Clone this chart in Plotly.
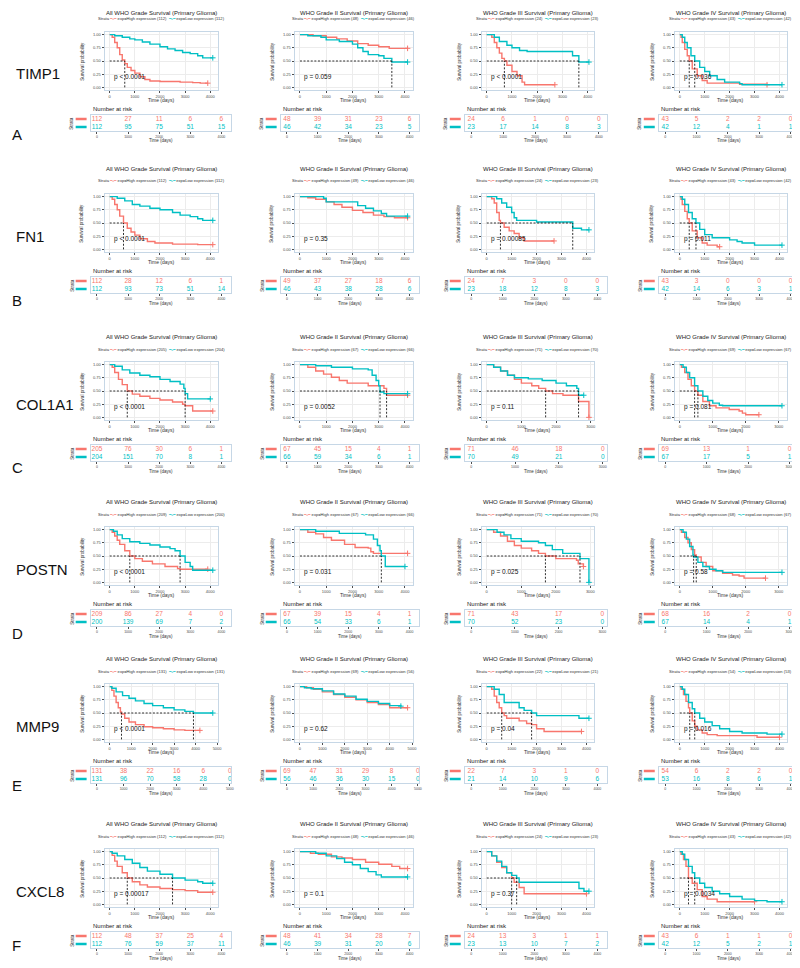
import plotly.graph_objects as go

W, H = 800, 968
RED = "#F8766D"
CYAN = "#00BFC4"
BORDER = "#c6d7e6"
FONT = "Arial, Liberation Sans, sans-serif"

GENES = ["TIMP1", "FN1", "COL1A1", "POSTN", "MMP9", "CXCL8"]
ROW_LETTERS = ["A", "B", "C", "D", "E", "F"]
GRADES = ["ALL", "II", "III", "IV"]
TITLES = ["All WHO Grade Survival (Primary Glioma)", "WHO Grade II Survival (Primary Glioma)",
          "WHO Grade III Survival (Primary Glioma)", "WHO Grade IV Survival (Primary Glioma)"]

# ---------------- survival curves: (time, survival) step points ----------------
TIMP1_ALL_HIGH = [(0,1),(100,0.95),(200,0.85),(300,0.75),(400,0.62),(500,0.52),(600,0.45),(700,0.38),(850,0.32),(1000,0.27),(1200,0.2),(1400,0.15),(1600,0.12),(2000,0.11),(2800,0.1),(3300,0.09),(3600,0.08),(3900,0.08)]
TIMP1_ALL_LOW = [(0,1),(200,0.98),(500,0.95),(800,0.92),(1000,0.9),(1300,0.86),(1600,0.82),(2000,0.77),(2300,0.73),(2600,0.7),(2900,0.66),(3200,0.64),(3500,0.6),(3700,0.56),(4100,0.56)]
TIMP1_II_HIGH = [(0,1),(500,0.98),(1000,0.95),(1400,0.92),(1800,0.88),(2200,0.83),(2600,0.8),(3000,0.77),(3400,0.74),(4100,0.74)]
TIMP1_II_LOW = [(0,1),(300,0.98),(800,0.95),(1000,0.9),(1500,0.87),(2000,0.82),(2200,0.75),(2400,0.68),(2600,0.62),(3000,0.6),(3200,0.55),(3500,0.48),(4100,0.48)]
TIMP1_III_HIGH = [(0,1),(200,0.95),(300,0.85),(400,0.75),(500,0.65),(600,0.55),(700,0.5),(800,0.42),(1000,0.3),(1200,0.22),(1400,0.1),(1500,0.05),(2700,0.05)]
TIMP1_III_LOW = [(0,1),(300,0.95),(500,0.87),(800,0.8),(1000,0.75),(1300,0.7),(1600,0.68),(3300,0.68),(3400,0.6),(3650,0.48),(4050,0.48)]
TIMP1_IV_HIGH = [(0,1),(50,0.95),(100,0.85),(200,0.72),(300,0.6),(380,0.5),(500,0.35),(700,0.22),(900,0.13),(1100,0.08),(2400,0.06),(3500,0.05)]
TIMP1_IV_LOW = [(0,1),(100,0.95),(200,0.85),(300,0.75),(450,0.6),(600,0.5),(800,0.38),(1000,0.3),(1200,0.22),(1500,0.15),(1800,0.1),(2400,0.07),(2500,0.05),(4100,0.05)]

FN1_ALL_HIGH = [(0,1),(100,0.95),(200,0.85),(300,0.75),(400,0.63),(550,0.5),(700,0.4),(850,0.33),(1000,0.27),(1200,0.2),(1500,0.15),(1800,0.12),(2500,0.1),(3500,0.09),(4100,0.09)]
FN1_ALL_LOW = [(0,1),(300,0.97),(600,0.92),(900,0.85),(1200,0.82),(1600,0.78),(2000,0.75),(2500,0.7),(2800,0.65),(3200,0.62),(3500,0.58),(3700,0.55),(4100,0.55)]
FN1_II_HIGH = [(0,1),(300,0.98),(600,0.95),(1000,0.9),(1300,0.85),(1600,0.8),(2000,0.74),(2400,0.7),(2800,0.65),(3200,0.62),(3600,0.6),(4100,0.6)]
FN1_II_LOW = [(0,1),(900,0.97),(1000,0.9),(2000,0.9),(2200,0.83),(2500,0.78),(2800,0.73),(3100,0.68),(3300,0.63),(4100,0.63)]
FN1_III_HIGH = [(0,1),(200,0.96),(300,0.88),(400,0.7),(500,0.55),(550,0.5),(700,0.42),(900,0.35),(1100,0.3),(1300,0.22),(1500,0.16),(2700,0.16)]
FN1_III_LOW = [(0,1),(400,0.96),(600,0.88),(800,0.8),(1000,0.7),(1100,0.6),(1200,0.55),(2000,0.52),(3400,0.52),(3450,0.4),(3800,0.37),(4100,0.37)]
FN1_IV_HIGH = [(0,1),(50,0.95),(100,0.85),(200,0.72),(300,0.58),(380,0.5),(500,0.35),(700,0.22),(900,0.12),(1100,0.08),(1500,0.05),(1600,0.05)]
FN1_IV_LOW = [(0,1),(100,0.95),(200,0.85),(350,0.7),(500,0.58),(650,0.5),(800,0.38),(1000,0.28),(1300,0.22),(2000,0.18),(2300,0.15),(2500,0.12),(3000,0.08),(4100,0.08)]

COL1A1_ALL_HIGH = [(0,1),(100,0.95),(200,0.85),(350,0.72),(500,0.62),(700,0.5),(900,0.44),(1200,0.4),(1600,0.36),(2000,0.33),(2500,0.29),(2900,0.25),(3000,0.22),(3300,0.12),(4100,0.12)]
COL1A1_ALL_LOW = [(0,1),(200,0.97),(500,0.9),(800,0.84),(1200,0.8),(1600,0.77),(2000,0.72),(2400,0.68),(2800,0.63),(2950,0.55),(3000,0.45),(3100,0.35),(4000,0.35)]
COL1A1_II_HIGH = [(0,1),(300,0.95),(600,0.88),(900,0.82),(1200,0.76),(1500,0.7),(1800,0.65),(2500,0.65),(2600,0.6),(3200,0.55),(3300,0.42),(4100,0.42)]
COL1A1_II_LOW = [(0,1),(600,0.98),(1200,0.95),(2000,0.92),(2600,0.9),(2750,0.8),(2900,0.7),(3000,0.6),(3050,0.48),(3200,0.45),(4100,0.45)]
COL1A1_III_HIGH = [(0,1),(200,0.95),(400,0.88),(600,0.8),(800,0.72),(1000,0.65),(1300,0.6),(1500,0.55),(1700,0.5),(1900,0.45),(2200,0.42),(2600,0.42),(2650,0.3),(2900,0.3),(2950,0.0)]
COL1A1_III_LOW = [(0,1),(200,0.95),(400,0.88),(600,0.8),(800,0.75),(1200,0.73),(1600,0.7),(2000,0.65),(2300,0.6),(2600,0.55),(2650,0.42),(2800,0.42)]
COL1A1_IV_HIGH = [(0,1),(50,0.95),(150,0.85),(250,0.72),(350,0.6),(450,0.5),(550,0.42),(700,0.3),(900,0.22),(1100,0.18),(1500,0.15),(1800,0.12),(1900,0.08),(2000,0.05),(2400,0.05)]
COL1A1_IV_LOW = [(0,1),(100,0.95),(200,0.85),(300,0.75),(450,0.6),(550,0.5),(700,0.4),(850,0.32),(1000,0.27),(1200,0.23),(1300,0.22),(3100,0.22)]

POSTN_ALL_HIGH = [(0,1),(100,0.95),(200,0.88),(300,0.8),(400,0.72),(600,0.6),(800,0.5),(1000,0.45),(1300,0.4),(1700,0.35),(2200,0.3),(2700,0.26),(2800,0.25),(3900,0.25)]
POSTN_ALL_LOW = [(0,1),(150,0.97),(300,0.9),(500,0.83),(800,0.77),(1200,0.74),(1600,0.71),(2000,0.67),(2400,0.64),(2600,0.6),(2800,0.5),(3000,0.38),(3200,0.3),(3300,0.23),(4100,0.23)]
POSTN_II_HIGH = [(0,1),(300,0.95),(600,0.92),(900,0.85),(1200,0.8),(1700,0.72),(2100,0.66),(2600,0.65),(2700,0.58),(2800,0.55),(4100,0.55)]
POSTN_II_LOW = [(0,1),(600,0.97),(1500,0.93),(2500,0.9),(2800,0.82),(2950,0.7),(3050,0.6),(3100,0.5),(3250,0.3),(4000,0.3)]
POSTN_III_HIGH = [(0,1),(200,0.95),(400,0.88),(600,0.78),(800,0.7),(1000,0.65),(1300,0.6),(1500,0.55),(1700,0.5),(2000,0.45),(2600,0.42),(2650,0.35),(2800,0.3)]
POSTN_III_LOW = [(0,1),(300,0.95),(500,0.9),(700,0.83),(1000,0.78),(1500,0.75),(1700,0.7),(1900,0.62),(2200,0.55),(2650,0.55),(2700,0.45),(2950,0.45),(2960,0.0)]
POSTN_IV_HIGH = [(0,1),(50,0.95),(150,0.85),(250,0.75),(350,0.62),(450,0.52),(500,0.48),(650,0.38),(800,0.3),(1000,0.22),(1300,0.17),(1600,0.14),(1800,0.12),(1950,0.08),(2600,0.08)]
POSTN_IV_LOW = [(0,1),(100,0.95),(200,0.82),(300,0.68),(400,0.52),(420,0.48),(550,0.38),(700,0.3),(900,0.25),(1100,0.22),(1300,0.19),(3100,0.19)]

MMP9_ALL_HIGH = [(0,1),(100,0.93),(200,0.82),(300,0.7),(400,0.6),(500,0.52),(550,0.48),(700,0.4),(900,0.33),(1200,0.28),(1600,0.24),(2000,0.22),(2500,0.2),(3000,0.18),(3500,0.17),(4200,0.17)]
MMP9_ALL_LOW = [(0,1),(100,0.97),(300,0.9),(600,0.83),(900,0.78),(1200,0.73),(1600,0.68),(2000,0.64),(2500,0.6),(3000,0.56),(3500,0.53),(3900,0.5),(4800,0.5)]
MMP9_II_HIGH = [(0,1),(300,0.98),(600,0.95),(1000,0.9),(1500,0.85),(2000,0.8),(2500,0.75),(3000,0.7),(3500,0.66),(4000,0.6),(4800,0.6)]
MMP9_II_LOW = [(0,1),(200,0.98),(500,0.96),(1000,0.92),(1500,0.86),(2000,0.82),(2500,0.76),(3000,0.72),(3500,0.68),(4000,0.64),(4500,0.63)]
MMP9_III_HIGH = [(0,1),(200,0.95),(300,0.82),(400,0.7),(500,0.6),(600,0.5),(700,0.45),(800,0.4),(1300,0.35),(1600,0.3),(1800,0.28),(2000,0.2),(2300,0.15),(3800,0.15)]
MMP9_III_LOW = [(0,1),(300,0.95),(500,0.85),(700,0.7),(1000,0.7),(1300,0.6),(1500,0.55),(1800,0.5),(2000,0.45),(3000,0.45),(3700,0.4),(4100,0.4)]
MMP9_IV_HIGH = [(0,1),(50,0.95),(150,0.85),(250,0.72),(350,0.6),(400,0.5),(500,0.35),(600,0.25),(700,0.18),(900,0.12),(1100,0.09),(1500,0.07),(3000,0.07),(3100,0.04),(4000,0.04)]
MMP9_IV_LOW = [(0,1),(100,0.95),(200,0.85),(350,0.7),(500,0.58),(600,0.5),(800,0.4),(1000,0.33),(1300,0.26),(1600,0.2),(2000,0.15),(2500,0.12),(3500,0.1),(4100,0.1)]

CXCL8_ALL_HIGH = [(0,1),(100,0.93),(200,0.82),(300,0.72),(500,0.6),(700,0.5),(900,0.43),(1200,0.37),(1500,0.33),(2000,0.3),(2500,0.28),(3000,0.26),(3500,0.23),(4100,0.23)]
CXCL8_ALL_LOW = [(0,1),(100,0.97),(300,0.92),(600,0.85),(900,0.78),(1200,0.7),(1500,0.63),(2000,0.57),(2500,0.5),(3000,0.46),(3500,0.43),(3700,0.4),(4100,0.4)]
CXCL8_II_HIGH = [(0,1),(400,0.97),(700,0.95),(1200,0.9),(1600,0.88),(2000,0.85),(2500,0.8),(3000,0.76),(3500,0.72),(3800,0.68),(4100,0.68)]
CXCL8_II_LOW = [(0,1),(600,0.97),(1000,0.92),(1400,0.87),(1700,0.8),(2000,0.75),(2300,0.68),(2600,0.62),(2900,0.56),(3100,0.52),(4100,0.52)]
CXCL8_III_HIGH = [(0,1),(200,0.92),(400,0.8),(600,0.7),(800,0.6),(1000,0.5),(1100,0.42),(1300,0.32),(1500,0.2),(4000,0.2)]
CXCL8_III_LOW = [(0,1),(200,0.92),(400,0.82),(600,0.72),(800,0.6),(1000,0.55),(1200,0.5),(1300,0.42),(3500,0.42),(3700,0.3),(3900,0.25),(4100,0.25)]
CXCL8_IV_HIGH = [(0,1),(50,0.95),(150,0.85),(250,0.72),(350,0.5),(500,0.4),(700,0.28),(900,0.15),(1100,0.1),(1500,0.05),(3000,0.05)]
CXCL8_IV_LOW = [(0,1),(100,0.95),(200,0.85),(350,0.72),(500,0.6),(600,0.5),(800,0.4),(1000,0.32),(1300,0.25),(1600,0.2),(2000,0.15),(2500,0.1),(3000,0.07),(3500,0.05),(4100,0.05)]

# ---------------- number at risk (high, low) at 0, 1000, 2000, ... ----------------
TIMP1_ALL_RISK = [[112, 27, 11, 6, 6], [112, 95, 75, 51, 15]]
TIMP1_II_RISK = [[48, 39, 31, 23, 6], [46, 42, 34, 23, 5]]
TIMP1_III_RISK = [[24, 6, 1, 0, 0], [23, 17, 14, 8, 3]]
TIMP1_IV_RISK = [[43, 5, 2, 2, 0], [42, 12, 4, 1, 1]]
FN1_ALL_RISK = [[112, 28, 12, 6, 1], [112, 93, 73, 51, 14]]
FN1_II_RISK = [[49, 37, 27, 18, 6], [46, 43, 38, 28, 6]]
FN1_III_RISK = [[24, 7, 3, 0, 0], [23, 18, 12, 8, 3]]
FN1_IV_RISK = [[43, 3, 0, 0, 0], [42, 14, 6, 3, 1]]
COL1A1_ALL_RISK = [[205, 76, 30, 6, 1], [204, 151, 70, 8, 1]]
COL1A1_II_RISK = [[67, 45, 15, 4, 1], [66, 59, 34, 6, 1]]
COL1A1_III_RISK = [[71, 46, 18, 0], [70, 49, 21, 0]]
COL1A1_IV_RISK = [[69, 13, 1, 0], [67, 17, 5, 1]]
POSTN_ALL_RISK = [[209, 86, 27, 4, 0], [200, 139, 69, 7, 2]]
POSTN_II_RISK = [[67, 39, 15, 4, 1], [66, 54, 33, 6, 1]]
POSTN_III_RISK = [[71, 43, 17, 0], [70, 52, 23, 0]]
POSTN_IV_RISK = [[68, 16, 2, 0], [67, 14, 4, 1]]
MMP9_ALL_RISK = [[131, 38, 22, 16, 6, 0], [131, 96, 70, 58, 28, 0]]
MMP9_II_RISK = [[69, 47, 31, 29, 8, 0], [56, 46, 36, 30, 15, 0]]
MMP9_III_RISK = [[22, 7, 3, 1, 0], [21, 14, 10, 9, 6]]
MMP9_IV_RISK = [[54, 6, 2, 2, 0], [53, 16, 8, 6, 1]]
CXCL8_ALL_RISK = [[112, 48, 37, 25, 4], [112, 76, 59, 37, 11]]
CXCL8_II_RISK = [[48, 41, 34, 28, 7], [46, 39, 31, 20, 6]]
CXCL8_III_RISK = [[24, 13, 3, 1, 1], [23, 13, 10, 7, 2]]
CXCL8_IV_RISK = [[43, 6, 1, 1, 0], [42, 12, 5, 2, 1]]

# ---------------- p values ----------------
TIMP1_P = ["p < 0.0001", "p = 0.059", "p < 0.0001", "p = 0.036"]
FN1_P = ["p < 0.0001", "p = 0.35", "p = 0.00085", "p = 0.011"]
COL1A1_P = ["p < 0.0001", "p = 0.0052", "p = 0.11", "p = 0.081"]
POSTN_P = ["p < 0.0001", "p = 0.031", "p = 0.025", "p = 0.58"]
MMP9_P = ["p < 0.0001", "p = 0.62", "p = 0.04", "p = 0.016"]
CXCL8_P = ["p = 0.00017", "p = 0.1", "p = 0.37", "p = 0.0034"]

# ---------------- layout geometry (pixels) ----------------
DY = -7
ROW_TOPS = [31, 193, 361, 526, 683, 848]
LETTER_Y = [133, 300, 466, 632, 784, 944]
PH = 58
COL_PX = [(97, 211, 83, 224), (288, 407, 274, 413), (476, 589, 459, 602), (670, 783, 654, 796)]

G = globals()


def fx(px):
    return px / W


def fy(py):
    return 1 - (py + DY) / H


def fy_clamped(py, min_abs=5):
    return 1 - max(py + DY, min_abs) / H


def median(curve):
    for t, s in curve:
        if s <= 0.5:
            return t
    return None


fig = go.Figure()
layout = {}
annotations = []
shapes = []
k = 0


def axname(n):
    return ("xaxis" if n == 1 else f"xaxis{n}"), ("yaxis" if n == 1 else f"yaxis{n}")


def ref(n):
    return ("x" if n == 1 else f"x{n}"), ("y" if n == 1 else f"y{n}")


TICKC = "#4d4d4d"
DASH = dict(color="#1a1a1a", width=0.9, dash="2px,1.6px")
for r, gene in enumerate(GENES):
    top = ROW_TOPS[r]
    pvals = G[f"{gene}_P"]
    annotations.append(dict(x=fx(6), y=fy(top + 42), xref="paper", yref="paper", text=gene,
                            showarrow=False, xanchor="left", yanchor="middle",
                            font=dict(size=15, color="#111111", family=FONT)))
    annotations.append(dict(x=fx(2), y=fy(LETTER_Y[r]), xref="paper", yref="paper", text=ROW_LETTERS[r],
                            showarrow=False, xanchor="left", yanchor="middle",
                            font=dict(size=15, color="#111111", family=FONT)))
    for c, grade in enumerate(GRADES):
        pl, pr, rl, rr = COL_PX[c]
        hi = G[f"{gene}_{grade}_HIGH"]
        lo = G[f"{gene}_{grade}_LOW"]
        risk = G[f"{gene}_{grade}_RISK"]
        M = max(max(t for t, _ in hi), max(t for t, _ in lo))
        xr = [-0.05 * M, 1.05 * M]
        tickvals = [i * 1000 for i in range(len(risk[0]))]

        # ---- KM plot ----
        k += 1
        xa, ya = axname(k)
        xr_, yr_ = ref(k)
        layout[xa] = dict(domain=[fx(pl), fx(pr)], anchor=yr_, range=xr, tickvals=tickvals,
                          ticks="outside", ticklen=2, tickwidth=0.6, tickcolor=TICKC,
                          tickfont=dict(size=4, color=TICKC, family=FONT),
                          showgrid=True, gridcolor="#ececec", gridwidth=0.5,
                          showline=True, mirror=True, linecolor=BORDER, linewidth=1, zeroline=False)
        layout[ya] = dict(domain=[fy(top + PH), fy(top)], anchor=xr_, range=[-0.05, 1.05],
                          tickvals=[0, 0.25, 0.5, 0.75, 1], ticktext=["0.00", "0.25", "0.50", "0.75", "1.00"],
                          ticks="outside", ticklen=2, tickwidth=0.6, tickcolor=TICKC,
                          tickfont=dict(size=4, color=TICKC, family=FONT),
                          showgrid=True, gridcolor="#ececec", gridwidth=0.5,
                          showline=True, mirror=True, linecolor=BORDER, linewidth=1, zeroline=False)
        for curve, col in ((hi, RED), (lo, CYAN)):
            fig.add_trace(go.Scatter(x=[t for t, _ in curve], y=[s for _, s in curve], mode="lines",
                                     line=dict(color=col, width=1.4, shape="hv"),
                                     xaxis=xr_, yaxis=yr_, hoverinfo="skip"))
            fig.add_trace(go.Scatter(x=[curve[-1][0]], y=[curve[-1][1]], mode="markers",
                                     marker=dict(symbol="cross-thin-open", size=4, color=col,
                                                 line=dict(color=col, width=1)),
                                     xaxis=xr_, yaxis=yr_, hoverinfo="skip"))
        meds = [m for m in (median(hi), median(lo)) if m is not None]
        if meds:
            shapes.append(dict(type="line", xref=xr_, yref=yr_, x0=0, x1=max(meds), y0=0.5, y1=0.5, line=DASH))
            for m in meds:
                shapes.append(dict(type="line", xref=xr_, yref=yr_, x0=m, x1=m, y0=0, y1=0.5, line=DASH))
        annotations.append(dict(x=0.02 * M, y=0.19, xref=xr_, yref=yr_, text=pvals[c], showarrow=False,
                                xanchor="left", yanchor="middle", font=dict(size=6.5, color="#111111", family=FONT)))
        cx = (pl + pr) / 2
        annotations.append(dict(x=fx(cx), y=fy_clamped(top - 25), xref="paper", yref="paper", text=TITLES[c],
                                showarrow=False, xanchor="center", yanchor="middle",
                                font=dict(size=6, color="#222222", family=FONT)))
        leg = (f"Strata <span style='color:{RED}'>━+━</span> exp=High expression ({risk[0][0]})  "
               f"<span style='color:{CYAN}'>━+━</span> exp=Low expression ({risk[1][0]})")
        annotations.append(dict(x=fx(cx), y=fy(top - 13), xref="paper", yref="paper", text=leg,
                                showarrow=False, xanchor="center", yanchor="middle",
                                font=dict(size=4.1, color="#333333", family=FONT)))
        annotations.append(dict(x=fx(pl - 23), y=fy(top + PH / 2), xref="paper", yref="paper",
                                text="Survival probability", textangle=-90, showarrow=False,
                                xanchor="center", yanchor="middle", font=dict(size=4.5, color="#333333", family=FONT)))
        annotations.append(dict(x=fx(cx), y=fy(top + 68), xref="paper", yref="paper", text="Time (days)",
                                showarrow=False, xanchor="center", yanchor="middle",
                                font=dict(size=5, color="#333333", family=FONT)))

        # ---- risk table ----
        rt = top + 83
        k += 1
        xa, ya = axname(k)
        xr2, yr2 = ref(k)
        layout[xa] = dict(domain=[fx(rl), fx(rr)], anchor=yr2, range=xr, tickvals=tickvals,
                          ticks="outside", ticklen=2, tickwidth=0.6, tickcolor=TICKC,
                          tickfont=dict(size=3.5, color=TICKC, family=FONT),
                          showgrid=False, showline=True, mirror=True, linecolor=BORDER, linewidth=1, zeroline=False)
        layout[ya] = dict(domain=[fy(rt + 16), fy(rt)], anchor=xr2, range=[-0.5, 1.5],
                          showticklabels=False, ticks="", showgrid=False,
                          showline=True, mirror=True, linecolor=BORDER, linewidth=1, zeroline=False)
        for row_vals, yv, col in ((risk[0], 1, RED), (risk[1], 0, CYAN)):
            fig.add_trace(go.Scatter(x=tickvals, y=[yv] * len(row_vals), mode="text",
                                     text=[str(v) for v in row_vals],
                                     textfont=dict(size=6.5, color=col, family=FONT),
                                     xaxis=xr2, yaxis=yr2, hoverinfo="skip"))
        annotations.append(dict(x=fx(rl), y=fy(rt - 6), xref="paper", yref="paper", text="Number at risk",
                                showarrow=False, xanchor="left", yanchor="middle",
                                font=dict(size=6, color="#222222", family=FONT)))
        annotations.append(dict(x=fx((rl + rr) / 2), y=fy(rt + 26), xref="paper", yref="paper",
                                text="Time (days)", showarrow=False, xanchor="center", yanchor="middle",
                                font=dict(size=4.5, color="#333333", family=FONT)))
        annotations.append(dict(x=fx(rl - 19), y=fy(rt + 8), xref="paper", yref="paper", text="Strata",
                                textangle=-90, showarrow=False, xanchor="center", yanchor="middle",
                                font=dict(size=4.5, color="#333333", family=FONT)))
        for yy, col in ((rt + 4, RED), (rt + 12, CYAN)):
            shapes.append(dict(type="line", xref="paper", yref="paper", x0=fx(rl - 15), x1=fx(rl - 4),
                               y0=fy(yy), y1=fy(yy), line=dict(color=col, width=2.5)))

fig.update_layout(width=W, height=H, margin=dict(l=0, r=0, t=0, b=0),
                  paper_bgcolor="white", plot_bgcolor="white", showlegend=False,
                  font=dict(family=FONT), annotations=annotations, shapes=shapes, **layout)
fig.write_html("out.html")
